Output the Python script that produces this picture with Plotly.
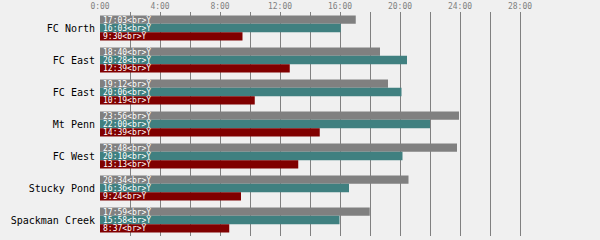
import plotly.graph_objects as go

categories = ["FC North", "FC East", "FC East", "Mt Penn", "FC West", "Stucky Pond", "Spackman Creek"]
# durations in minutes
series_a = [1023, 1120, 1152, 1436, 1428, 1234, 1079]   # gray
series_b = [963, 1228, 1206, 1320, 1210, 996, 958]      # teal
series_c = [570, 759, 619, 879, 793, 564, 517]          # dark red
tick_minutes = list(range(0, 1681, 120))
tick_labels = [f"{m // 60}:00" if (m // 60) % 4 == 0 else "" for m in tick_minutes]

colors = ["#808080", "#408080", "#800000"]
FONT = "DejaVu Sans Mono"

def fmt(m):
    return f"{m // 60}:{m % 60:02d}&lt;br&gt;Ÿ"

ypos = list(range(len(categories)))
fig = go.Figure()
for vals, col in zip([series_a, series_b, series_c], colors):
    fig.add_trace(go.Bar(
        x=vals, y=ypos, orientation="h",
        marker=dict(color=col, line=dict(width=0)),
        text=[fmt(v) for v in vals],
        textposition="inside", insidetextanchor="start",
        textangle=0, constraintext="none",
        textfont=dict(family=FONT, size=8, color="#ffffff"),
        hoverinfo="skip",
    ))

fig.update_layout(
    width=600, height=240,
    margin=dict(l=100, r=0, t=12, b=4),
    paper_bgcolor="#f0f0f0", plot_bgcolor="#f0f0f0",
    barmode="group", bargap=0.22, bargroupgap=0,
    showlegend=False,
    xaxis=dict(
        side="top", range=[0, 2000],
        tickvals=tick_minutes, ticktext=tick_labels,
        showgrid=True, gridcolor="#808080", gridwidth=1,
        zeroline=False, showline=False, ticks="",
        tickfont=dict(family=FONT, size=8, color="#808080"),
    ),
    yaxis=dict(
        tickvals=ypos, ticktext=categories,
        autorange="reversed",
        showgrid=False, zeroline=False, showline=False, ticks="",
        ticklabelstandoff=4,
        tickfont=dict(family=FONT, size=10, color="#000000"),
    ),
)
fig.write_html("out.html")
